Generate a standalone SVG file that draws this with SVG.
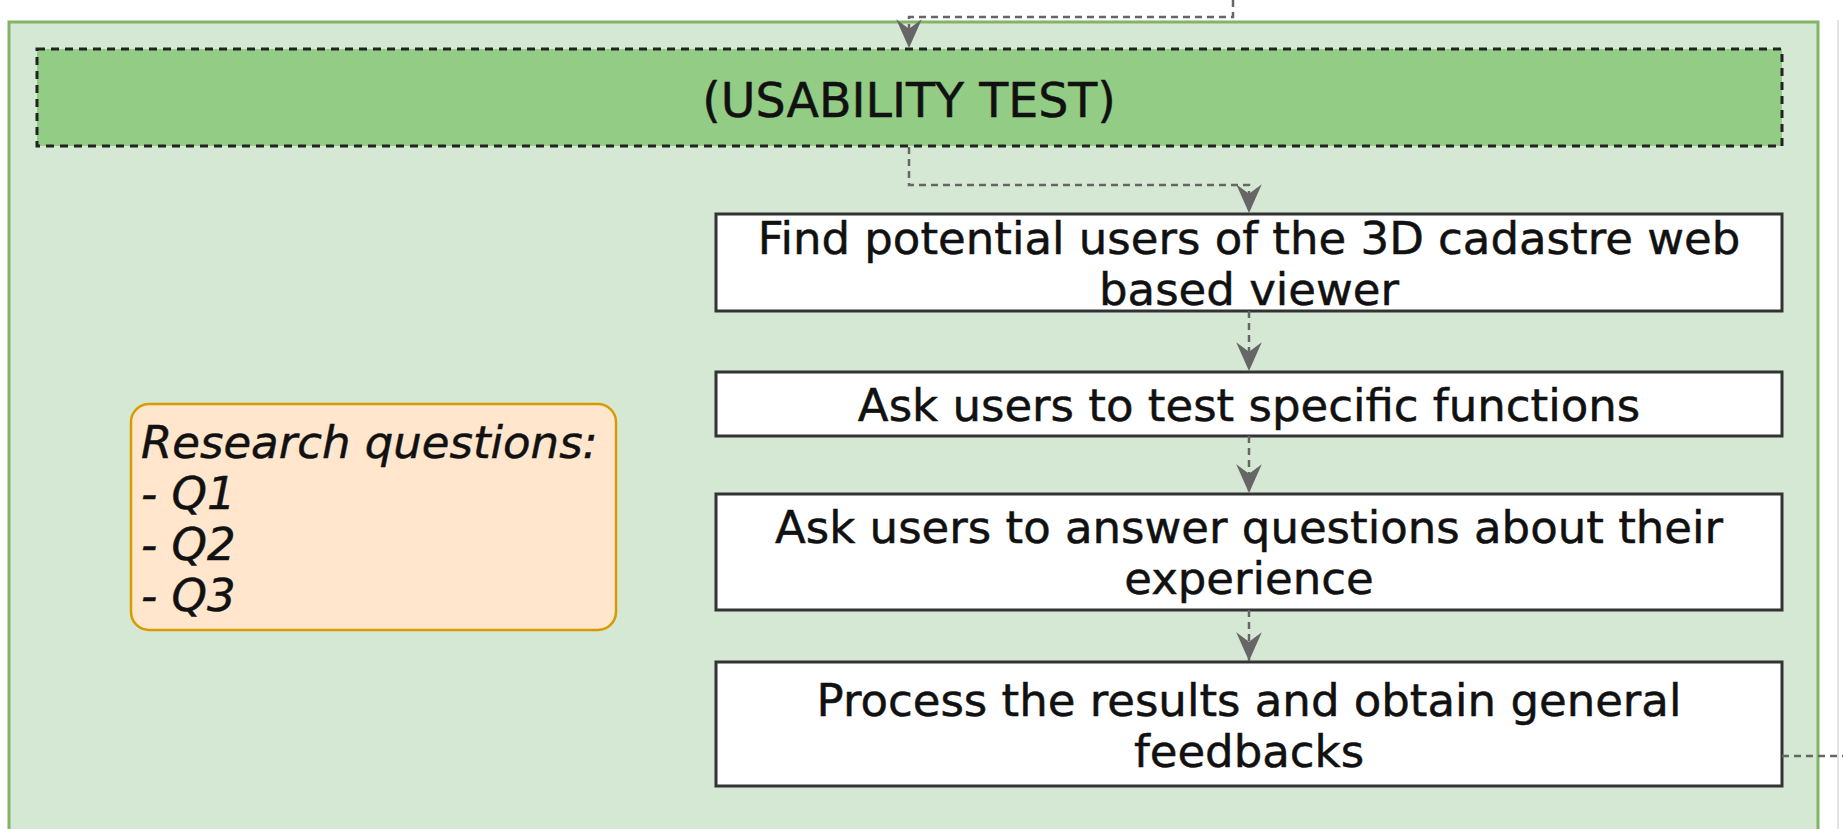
<svg xmlns="http://www.w3.org/2000/svg" width="1843" height="829" viewBox="0 0 1843 829">
  <style>
    .lbl { font-family: "DejaVu Sans", Verdana, sans-serif; font-size: 45px; fill: #111; stroke: #111; stroke-width: 0.5; }
    .title { font-size: 47.5px; }
    .step { fill: #ffffff; stroke: #333333; stroke-width: 3; }
    .edge { fill: none; stroke: #666666; stroke-width: 2.5; stroke-dasharray: 7 5; }
  </style>
  <defs>
    <marker id="arrow" markerUnits="userSpaceOnUse" markerWidth="32" markerHeight="32" viewBox="-28 -14 30 28" refX="0" refY="0" orient="auto">
      <path d="M0,0 L-27,-12 L-18,0 L-27,12 Z" fill="#666666"/>
    </marker>
  </defs>

  <rect width="1843" height="829" fill="#ffffff"/>
  <!-- edge of a neighbouring shape -->
  <line x1="1838" y1="20" x2="1838" y2="829" stroke="#e4e4e4" stroke-width="2"/>

  <!-- swimlane container -->
  <g id="container">
    <rect x="9" y="22" width="1809" height="830" fill="#d5e8d4" stroke="#82b366" stroke-width="3"/>
  </g>

  <g id="usability-test">
    <rect x="37" y="49" width="1745" height="97" fill="#93cc85" stroke="#222222" stroke-width="3" stroke-dasharray="8 6"/>
    <text class="lbl title" x="909" y="116.5" text-anchor="middle">(USABILITY TEST)</text>
  </g>

  <g id="research-questions">
    <rect x="131" y="404" width="485" height="226" rx="18" ry="18" fill="#ffe6cc" stroke="#d79b00" stroke-width="2.5"/>
    <text class="lbl" font-style="italic" x="141" y="458">Research questions:</text>
    <text class="lbl" font-style="italic" x="141" y="509">- Q1</text>
    <text class="lbl" font-style="italic" x="141" y="560">- Q2</text>
    <text class="lbl" font-style="italic" x="141" y="611">- Q3</text>
  </g>

  <g id="find-users">
    <rect class="step" x="716" y="214" width="1066" height="97"/>
    <text class="lbl" x="1249" y="254" text-anchor="middle">Find potential users of the 3D cadastre web</text>
    <text class="lbl" x="1249" y="305" text-anchor="middle">based viewer</text>
  </g>

  <g id="test-functions">
    <rect class="step" x="716" y="372" width="1066" height="64"/>
    <text class="lbl" x="1249" y="421" text-anchor="middle">Ask users to test specific functions</text>
  </g>

  <g id="answer-questions">
    <rect class="step" x="716" y="494" width="1066" height="116"/>
    <text class="lbl" x="1249" y="543" text-anchor="middle">Ask users to answer questions about their</text>
    <text class="lbl" x="1249" y="594" text-anchor="middle">experience</text>
  </g>

  <g id="process-results">
    <rect class="step" x="716" y="662" width="1066" height="124"/>
    <text class="lbl" x="1249" y="716" text-anchor="middle">Process the results and obtain general</text>
    <text class="lbl" x="1249" y="767" text-anchor="middle">feedbacks</text>
  </g>

  <g id="connectors">
    <path class="edge" d="M1233,0 V17 H909 V48" marker-end="url(#arrow)"/>
    <path class="edge" d="M909,147 V185 H1249 V213" marker-end="url(#arrow)"/>
    <path class="edge" d="M1249,311 V371" marker-end="url(#arrow)"/>
    <path class="edge" d="M1249,436 V493" marker-end="url(#arrow)"/>
    <path class="edge" d="M1249,610 V661" marker-end="url(#arrow)"/>
    <path class="edge" d="M1782,756 H1843"/>
  </g>
</svg>
